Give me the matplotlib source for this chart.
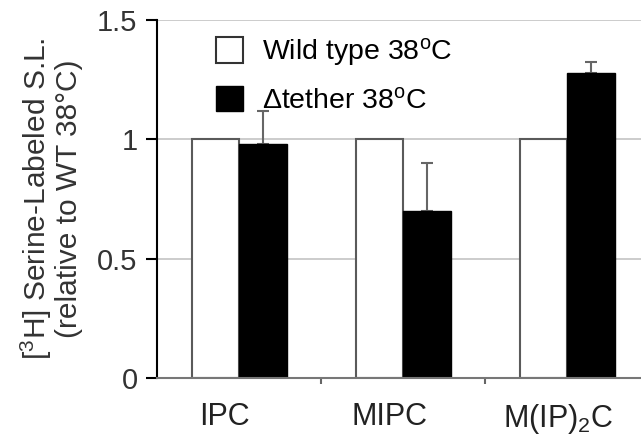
import matplotlib
matplotlib.use("Agg")
import matplotlib.pyplot as plt
import matplotlib.transforms as mtransforms
from matplotlib.patches import Patch
import numpy as np

plt.rcParams['font.family'] = ['Liberation Sans', 'DejaVu Sans']
plt.rcParams['mathtext.fontset'] = 'custom'
plt.rcParams['mathtext.rm'] = 'Liberation Sans'
plt.rcParams['mathtext.it'] = 'Liberation Sans'

categories = ["IPC", "MIPC", r"M(IP)$_2$C"]
wt_vals = [1.0, 1.0, 1.0]
tether_vals = [0.98, 0.70, 1.28]
tether_err = [0.14, 0.20, 0.045]
yticks = [0, 0.5, 1, 1.5]
ytick_labels = ["0", "0.5", "1", "1.5"]

fig = plt.figure(figsize=(6.41, 4.37), dpi=100)
ax = fig.add_axes([0.245, 0.135, 0.768, 0.819])

x = np.arange(len(categories))
w = 0.29
ax.yaxis.grid(True, color="#c4c4c4", linewidth=1.2, zorder=0)
ax.set_axisbelow(True)
ax.bar(x - w / 2, wt_vals, w, color="white", edgecolor="#5a5a5a", linewidth=1.5, zorder=2)
ax.bar(x + w / 2, tether_vals, w, color="black", edgecolor="black", linewidth=1, zorder=2)
ax.errorbar(x + w / 2, tether_vals, yerr=[[0] * 3, tether_err], fmt="none",
            ecolor="#666666", elinewidth=1.5, capsize=4.5, capthick=1.5, zorder=1)

ax.set_xlim(-0.5, 2.5)
ax.set_ylim(0, 1.5)
ax.set_yticks(yticks)
ax.set_yticklabels(ytick_labels)
ax.set_xticks(x)
ax.set_xticklabels(categories)
ax.set_xticks([0.5, 1.5, 2.5], minor=True)
ax.tick_params(axis="x", which="major", length=0, pad=17, labelsize=22)
ax.tick_params(axis="x", which="minor", length=4, width=1.5, color="#666666")
ax.tick_params(axis="y", length=8, width=1.5, pad=6, labelsize=21, labelcolor="#333333")
ax.tick_params(axis="x", labelcolor="#222222")

# category labels sit a bit left of the group centres
shifts = [-15, -14, -9]
for lab, dx in zip(ax.get_xticklabels(), shifts):
    lab.set_transform(lab.get_transform() + mtransforms.ScaledTranslation(dx / 100, 0, fig.dpi_scale_trans))

for s in ["top", "right"]:
    ax.spines[s].set_visible(False)
ax.spines["left"].set_color("black")
ax.spines["left"].set_linewidth(1.5)
ax.spines["bottom"].set_color("#777777")
ax.spines["bottom"].set_linewidth(1.5)

ax.set_ylabel("[$^3$H] Serine-Labeled S.L.\n(relative to WT 38°C)", fontsize=21.5,
              color="#333333", linespacing=1.05)
ax.yaxis.set_label_coords(-0.15, 0.5)

handles = [Patch(facecolor="white", edgecolor="#333333", linewidth=1.5),
           Patch(facecolor="black", edgecolor="black")]
labels = [r"Wild type 38$^{\rm o}$C", r"$\Delta$tether 38$^{\rm o}$C"]
ax.legend(handles, labels, loc="upper left", bbox_to_anchor=(0.12, 0.955), frameon=False,
          fontsize=20.5, handlelength=0.95, handleheight=1.0, handletextpad=0.65,
          labelspacing=0.62, borderaxespad=0, borderpad=0)

fig.savefig("out.png", dpi=100)
